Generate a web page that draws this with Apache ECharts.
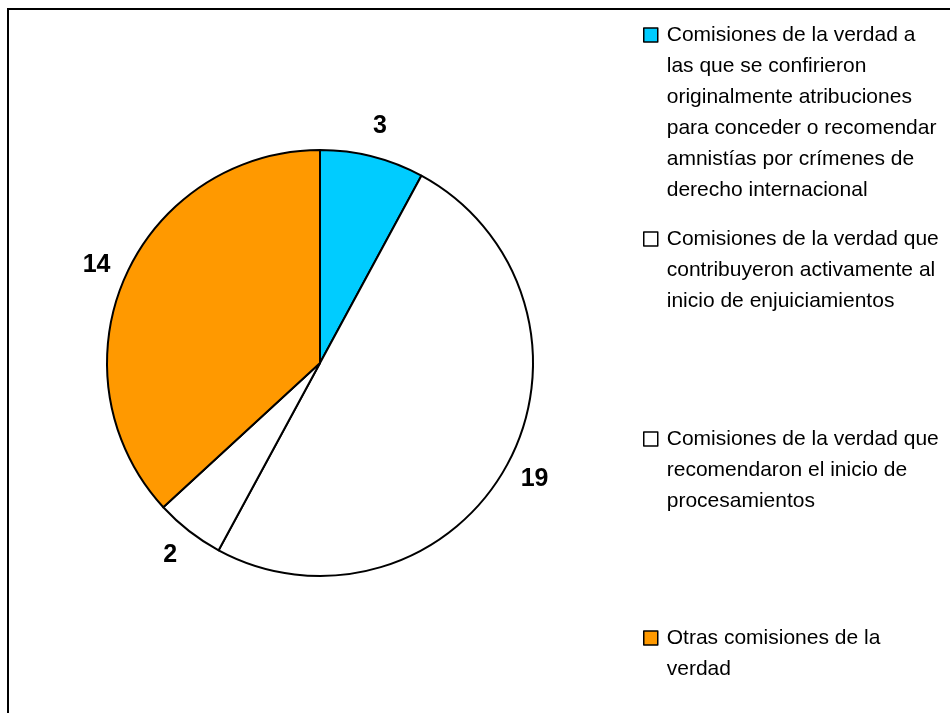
<!DOCTYPE html>
<html>
<head>
<meta charset="utf-8">
<script src="https://cdn.jsdelivr.net/npm/echarts@6/dist/echarts.min.js"></script>
<style>
	html, body { margin: 0; padding: 0; background: #fff; }
	#wrap { position: relative; width: 950px; height: 713px; overflow: hidden; }
	#frame { position: absolute; left: 7px; top: 8px; width: 1000px; height: 800px; border-left: 2px solid #000; border-top: 2px solid #000; }
	#main { position: absolute; left: 0; top: 0; width: 950px; height: 713px; }
</style>
</head>
<body>
<div id="wrap">
	<div id="frame"></div>
	<div id="main"></div>
</div>
<script>
const names = [
	'Comisiones de la verdad a\nlas que se confirieron\noriginalmente atribuciones\npara conceder o recomendar\namnistías por crímenes de\nderecho internacional',
	'Comisiones de la verdad que\ncontribuyeron activamente al\ninicio de enjuiciamientos',
	'Comisiones de la verdad que\nrecomendaron el inicio de\nprocesamientos',
	'Otras comisiones de la\nverdad'
];
const values = [3, 19, 2, 14];
const colors = ['#00CCFF', '#FFFFFF', '#FFFFFF', '#FF9900'];

// vertical centre of each legend icon
const legendCenters = [35, 239, 439, 638];
const lineH = 31;

const FONT = '"Liberation Sans", Arial, sans-serif';

const myChart = echarts.init(document.getElementById('main'), null, { renderer: 'canvas' });

const pieData = values.map((v, i) => ({
	name: names[i],
	value: v,
	itemStyle: { color: colors[i] }
}));

// one legend per entry; blank lines above the text keep the icon on the first line
const legends = names.map((n, i) => {
	const k = n.split('\n').length;
	const h = (2 * k - 1) * lineH;
	return {
		orient: 'vertical',
		left: 643,
		top: legendCenters[i] - h / 2,
		padding: 0,
		itemWidth: 14,
		itemHeight: 14,
		itemGap: 0,
		icon: 'rect',
		data: [n],
		selectedMode: false,
		formatter: (name) => '\n'.repeat(k - 1) + name,
		itemStyle: { borderColor: '#000', borderWidth: 1.5 },
		textStyle: {
			fontFamily: FONT,
			fontSize: 21,
			color: '#000',
			lineHeight: lineH,
			padding: [0, 0, 0, 4]
		}
	};
});

const option = {
	animation: false,
	backgroundColor: 'transparent',
	legend: legends,
	series: [
		{
			type: 'pie',
			center: [320, 363],
			radius: 213,
			startAngle: 90,
			clockwise: true,
			silent: true,
			label: { show: false },
			labelLine: { show: false },
			itemStyle: { borderColor: '#000', borderWidth: 2 },
			data: pieData
		},
		{
			// transparent ring carrying the value labels
			type: 'pie',
			center: [320, 363],
			radius: [217, 265],
			startAngle: 90,
			clockwise: true,
			silent: true,
			itemStyle: { color: 'rgba(0,0,0,0)', borderWidth: 0 },
			label: {
				show: true,
				position: 'inside',
				formatter: '{c}',
				fontFamily: FONT,
				fontWeight: 'bold',
				fontSize: 25,
				color: '#000'
			},
			labelLine: { show: false },
			data: values.map((v, i) => ({ name: names[i], value: v }))
		}
	]
};

myChart.setOption(option);
</script>
</body>
</html>
